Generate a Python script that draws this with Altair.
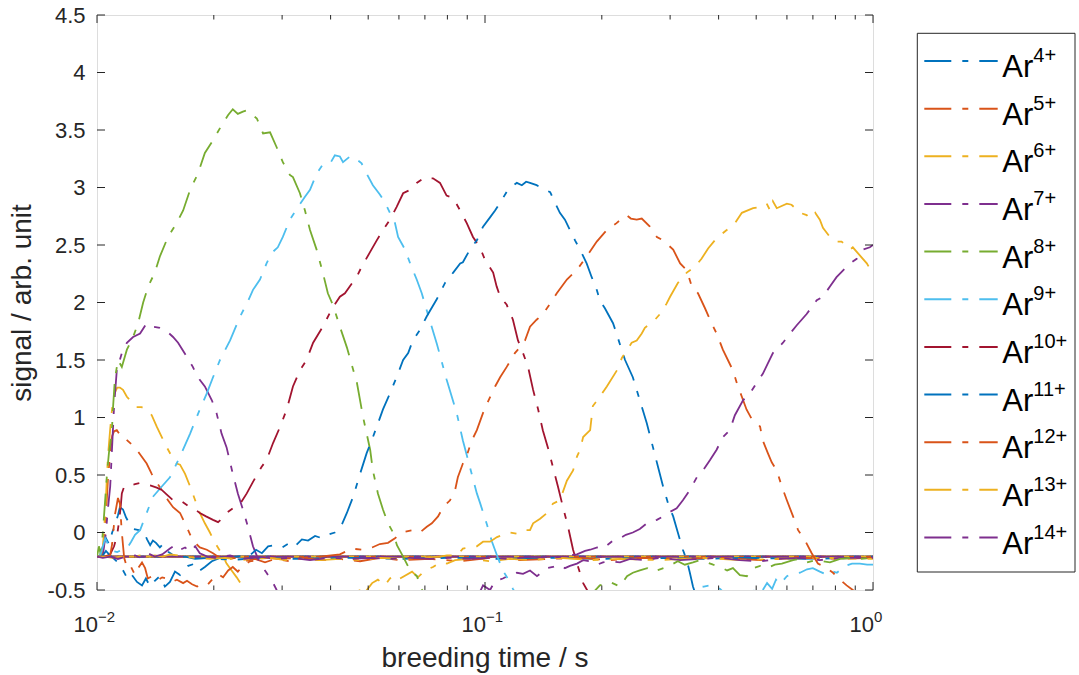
import altair as alt
import pandas as pd

FONT = "Liberation Sans"
INK = "#262626"

SERIES = ["Ar4+", "Ar5+", "Ar6+", "Ar7+", "Ar8+", "Ar9+", "Ar10+", "Ar11+", "Ar12+", "Ar13+", "Ar14+"]
SUPS = ["4+", "5+", "6+", "7+", "8+", "9+", "10+", "11+", "12+", "13+", "14+"]
COLORS = ["#0072BD", "#D95319", "#EDB120", "#7E2F8E", "#77AC30", "#4DBEEE",
          "#A2142F", "#0072BD", "#D95319", "#EDB120", "#7E2F8E"]
X_TITLE = "breeding time / s"
Y_TITLE = "signal / arb. unit"

AR4_LT = [-2.000, -1.992, -1.985, -1.977, -1.969, -1.961, -1.954, -1.946, -1.941, -1.933, -1.925, -1.915, -1.905, -1.892, -1.881, -1.871, -1.863, -1.856, -1.848, -1.838, -1.830, -1.820, -1.807, -1.791, -1.773, -1.747, -1.709, -1.657, -1.580, -1.477, -1.348, -1.219, -1.090, -0.961, -0.832, -0.704, -0.575, -0.446, -0.317, -0.188, 0.000]
AR4_V = [-0.21, -0.20, -0.12, -0.05, -0.10, 0.00, 0.06, 0.15, 0.22, 0.20, 0.13, 0.07, 0.03, 0.02, 0.02, -0.06, -0.11, -0.07, -0.09, -0.13, -0.10, -0.16, -0.19, -0.22, -0.21, -0.23, -0.22, -0.24, -0.22, -0.23, -0.22, -0.23, -0.22, -0.23, -0.22, -0.23, -0.22, -0.23, -0.22, -0.23, -0.22]

AR5_LT = [-2.000, -1.987, -1.982, -1.977, -1.972, -1.966, -1.961, -1.956, -1.949, -1.943, -1.936, -1.925, -1.915, -1.902, -1.885, -1.872, -1.859, -1.851, -1.833, -1.817, -1.804, -1.786, -1.769, -1.753, -1.735, -1.717, -1.701, -1.688, -1.670, -1.644, -1.619, -1.593, -1.567, -1.541, -1.503, -1.464, -1.425, -1.374, -1.322, -1.271, -1.219, -1.142, -1.064, -0.987, -0.910, -0.832, -0.755, -0.678, -0.601, -0.497, -0.394, -0.291, -0.188, -0.085, 0.000]
AR5_V = [-0.21, -0.20, -0.10, 0.15, 0.45, 0.70, 0.84, 0.88, 0.89, 0.86, 0.86, 0.81, 0.78, 0.74, 0.66, 0.60, 0.51, 0.46, 0.37, 0.28, 0.22, 0.17, 0.05, -0.07, -0.13, -0.15, -0.18, -0.21, -0.24, -0.22, -0.25, -0.23, -0.26, -0.23, -0.25, -0.22, -0.24, -0.23, -0.25, -0.22, -0.24, -0.23, -0.25, -0.22, -0.24, -0.23, -0.22, -0.24, -0.22, -0.23, -0.22, -0.24, -0.22, -0.23, -0.22]

AR6_LT = [-2.000, -1.987, -1.982, -1.977, -1.972, -1.966, -1.961, -1.956, -1.948, -1.941, -1.933, -1.923, -1.915, -1.898, -1.885, -1.872, -1.859, -1.846, -1.833, -1.820, -1.807, -1.795, -1.786, -1.773, -1.760, -1.747, -1.735, -1.722, -1.709, -1.696, -1.679, -1.666, -1.653, -1.640, -1.624, -1.613, -1.593, -1.477, -1.348, -1.327, -1.309, -1.291, -1.276, -1.258, -1.245, -1.232, -1.219, -1.188, -1.173, -1.155, -1.134, -1.116, -1.098, -1.077, -1.039, -0.987, -0.936, -0.884, -0.807, -0.729, -0.652, -0.549, -0.446, -0.343, -0.240, -0.137, 0.000]
AR6_V = [-0.21, -0.20, 0.00, 0.30, 0.65, 0.90, 1.08, 1.20, 1.26, 1.26, 1.24, 1.18, 1.15, 1.09, 1.09, 1.07, 1.02, 0.92, 0.83, 0.74, 0.66, 0.60, 0.59, 0.51, 0.40, 0.28, 0.17, 0.08, 0.00, -0.09, -0.18, -0.27, -0.33, -0.39, -0.47, -0.52, -0.62, -0.70, -0.60, -0.50, -0.52, -0.44, -0.41, -0.46, -0.40, -0.37, -0.40, -0.34, -0.39, -0.33, -0.30, -0.26, -0.27, -0.24, -0.23, -0.25, -0.23, -0.24, -0.22, -0.24, -0.23, -0.24, -0.22, -0.24, -0.23, -0.22, -0.23]

AR7_LT = [-2.000, -1.985, -1.977, -1.972, -1.966, -1.961, -1.956, -1.949, -1.936, -1.923, -1.907, -1.889, -1.872, -1.856, -1.838, -1.820, -1.804, -1.791, -1.769, -1.753, -1.740, -1.722, -1.704, -1.692, -1.679, -1.666, -1.650, -1.637, -1.624, -1.611, -1.598, -1.580, -1.563, -1.546, -1.537, -1.515, -1.348, -1.090, -1.018, -1.005, -0.987, -0.974, -0.954, -0.936, -0.918, -0.902, -0.884, -0.866, -0.840, -0.825, -0.807, -0.794, -0.781, -0.763, -0.747, -0.729, -0.711, -0.696, -0.678, -0.652, -0.626, -0.588, -0.549, -0.497, -0.446, -0.394, -0.343, -0.291, -0.240, -0.188, -0.137, -0.085, 0.000]
AR7_V = [-0.21, -0.20, 0.00, 0.20, 0.40, 0.75, 1.10, 1.41, 1.56, 1.65, 1.70, 1.73, 1.82, 1.79, 1.78, 1.75, 1.70, 1.65, 1.53, 1.44, 1.35, 1.27, 1.15, 1.04, 0.86, 0.74, 0.51, 0.34, 0.20, 0.05, -0.12, -0.27, -0.35, -0.44, -0.50, -0.62, -0.75, -0.70, -0.55, -0.46, -0.50, -0.42, -0.40, -0.37, -0.35, -0.36, -0.33, -0.38, -0.31, -0.30, -0.28, -0.31, -0.29, -0.27, -0.24, -0.25, -0.28, -0.26, -0.25, -0.26, -0.23, -0.24, -0.22, -0.24, -0.23, -0.22, -0.24, -0.25, -0.23, -0.22, -0.24, -0.22, -0.22]

AR8_LT = [-2.000, -1.995, -1.990, -1.985, -1.979, -1.974, -1.969, -1.962, -1.959, -1.954, -1.946, -1.936, -1.923, -1.907, -1.894, -1.881, -1.868, -1.851, -1.838, -1.817, -1.795, -1.778, -1.760, -1.740, -1.722, -1.701, -1.679, -1.662, -1.650, -1.637, -1.624, -1.614, -1.588, -1.572, -1.554, -1.537, -1.521, -1.503, -1.495, -1.477, -1.464, -1.451, -1.434, -1.418, -1.405, -1.392, -1.374, -1.356, -1.330, -1.314, -1.296, -1.289, -1.276, -1.263, -1.250, -1.237, -1.227, -1.211, -1.193, -1.175, -1.168, -1.142, -1.013, -0.858, -0.729, -0.704, -0.678, -0.652, -0.634, -0.619, -0.601, -0.582, -0.567, -0.549, -0.531, -0.503, -0.485, -0.464, -0.446, -0.428, -0.412, -0.394, -0.376, -0.361, -0.343, -0.325, -0.309, -0.291, -0.273, -0.253, -0.235, -0.206, -0.188, -0.170, -0.149, -0.131, -0.111, -0.085, -0.059, -0.034, 0.000]
AR8_V = [-0.21, -0.12, -0.20, 0.00, 0.28, 0.52, 0.70, 0.86, 1.07, 1.33, 1.50, 1.44, 1.59, 1.70, 1.82, 2.00, 2.14, 2.26, 2.40, 2.57, 2.69, 2.80, 2.98, 3.12, 3.30, 3.41, 3.54, 3.63, 3.68, 3.64, 3.66, 3.67, 3.60, 3.47, 3.48, 3.35, 3.22, 3.11, 3.09, 2.95, 2.80, 2.63, 2.46, 2.26, 2.08, 1.98, 1.79, 1.61, 1.30, 1.00, 0.72, 0.54, 0.34, 0.20, 0.08, 0.00, -0.11, -0.21, -0.33, -0.38, -0.47, -0.60, -0.65, -0.60, -0.55, -0.46, -0.43, -0.47, -0.38, -0.35, -0.33, -0.31, -0.34, -0.32, -0.30, -0.25, -0.28, -0.26, -0.24, -0.26, -0.28, -0.30, -0.33, -0.31, -0.37, -0.38, -0.31, -0.29, -0.31, -0.28, -0.27, -0.24, -0.23, -0.26, -0.24, -0.25, -0.26, -0.23, -0.22, -0.23, -0.22]

AR9_LT = [-2.000, -1.992, -1.987, -1.979, -1.972, -1.961, -1.948, -1.936, -1.923, -1.912, -1.902, -1.889, -1.872, -1.856, -1.833, -1.812, -1.786, -1.760, -1.735, -1.717, -1.701, -1.683, -1.657, -1.631, -1.611, -1.598, -1.580, -1.563, -1.550, -1.534, -1.521, -1.503, -1.482, -1.464, -1.451, -1.434, -1.418, -1.399, -1.387, -1.374, -1.366, -1.348, -1.340, -1.318, -1.305, -1.289, -1.271, -1.258, -1.245, -1.232, -1.224, -1.206, -1.193, -1.176, -1.163, -1.150, -1.124, -1.099, -1.073, -1.057, -1.039, -1.021, -1.013, -0.995, -0.982, -0.969, -0.954, -0.936, -0.928, -0.910, -0.704, -0.472, -0.454, -0.436, -0.420, -0.405, -0.394, -0.369, -0.317, -0.299, -0.284, -0.273, -0.260, -0.250, -0.240, -0.222, -0.206, -0.188, -0.170, -0.155, -0.137, -0.124, -0.111, -0.093, -0.072, -0.054, -0.034, -0.015, 0.000]
AR9_V = [-0.21, -0.20, -0.15, -0.05, -0.10, -0.16, -0.17, -0.15, -0.14, -0.08, -0.02, 0.02, 0.17, 0.31, 0.40, 0.48, 0.66, 0.86, 1.07, 1.21, 1.35, 1.50, 1.67, 1.88, 2.01, 2.11, 2.20, 2.34, 2.43, 2.48, 2.57, 2.72, 2.83, 2.92, 2.98, 3.12, 3.20, 3.21, 3.28, 3.27, 3.22, 3.27, 3.27, 3.21, 3.12, 3.02, 2.94, 2.87, 2.78, 2.69, 2.57, 2.46, 2.34, 2.20, 2.08, 1.93, 1.64, 1.33, 1.04, 0.80, 0.57, 0.34, 0.26, 0.07, -0.08, -0.20, -0.33, -0.43, -0.49, -0.60, -0.65, -0.55, -0.48, -0.47, -0.46, -0.47, -0.49, -0.58, -0.56, -0.47, -0.50, -0.44, -0.49, -0.41, -0.45, -0.38, -0.36, -0.35, -0.32, -0.31, -0.34, -0.36, -0.33, -0.35, -0.29, -0.27, -0.27, -0.28, -0.28]

AR10_LT = [-2.000, -1.979, -1.966, -1.956, -1.948, -1.943, -1.939, -1.936, -1.930, -1.915, -1.902, -1.889, -1.876, -1.863, -1.846, -1.833, -1.820, -1.804, -1.786, -1.773, -1.760, -1.747, -1.735, -1.719, -1.701, -1.688, -1.678, -1.666, -1.650, -1.631, -1.614, -1.598, -1.576, -1.563, -1.546, -1.528, -1.511, -1.495, -1.477, -1.460, -1.443, -1.418, -1.392, -1.374, -1.361, -1.340, -1.331, -1.318, -1.296, -1.279, -1.263, -1.245, -1.228, -1.211, -1.193, -1.176, -1.163, -1.149, -1.142, -1.134, -1.116, -1.099, -1.082, -1.064, -1.047, -1.031, -1.013, -1.000, -0.979, -0.970, -0.961, -0.944, -0.928, -0.915, -0.902, -0.889, -0.876, -0.863, -0.851, -0.838, -0.825, -0.812, -0.799, -0.786, -0.773, -0.760, -0.747, -0.737, -0.716, -0.446, 0.000]
AR10_V = [-0.21, -0.21, -0.19, -0.12, -0.02, 0.10, 0.22, 0.34, 0.40, 0.41, 0.42, 0.43, 0.42, 0.41, 0.39, 0.37, 0.33, 0.28, 0.28, 0.25, 0.22, 0.20, 0.17, 0.14, 0.11, 0.09, 0.12, 0.17, 0.21, 0.25, 0.34, 0.44, 0.57, 0.63, 0.78, 0.92, 1.07, 1.27, 1.41, 1.50, 1.65, 1.79, 1.96, 2.05, 2.08, 2.18, 2.22, 2.31, 2.44, 2.54, 2.63, 2.72, 2.83, 2.95, 2.98, 3.04, 3.07, 3.09, 3.08, 3.08, 3.04, 2.93, 2.91, 2.80, 2.69, 2.57, 2.48, 2.37, 2.26, 2.14, 2.05, 1.98, 1.85, 1.67, 1.56, 1.44, 1.24, 1.07, 0.89, 0.74, 0.57, 0.40, 0.22, 0.05, -0.15, -0.30, -0.44, -0.50, -0.65, -0.70, -0.70]

AR11_LT = [-2.000, -1.987, -1.977, -1.966, -1.956, -1.946, -1.936, -1.928, -1.920, -1.910, -1.897, -1.884, -1.874, -1.863, -1.851, -1.838, -1.825, -1.812, -1.799, -1.786, -1.765, -1.747, -1.735, -1.722, -1.704, -1.683, -1.644, -1.606, -1.590, -1.575, -1.559, -1.541, -1.523, -1.503, -1.490, -1.472, -1.456, -1.438, -1.420, -1.405, -1.387, -1.374, -1.356, -1.340, -1.322, -1.305, -1.292, -1.279, -1.263, -1.245, -1.228, -1.211, -1.198, -1.186, -1.168, -1.150, -1.124, -1.103, -1.082, -1.064, -1.057, -1.039, -1.021, -1.005, -0.987, -0.974, -0.957, -0.941, -0.931, -0.918, -0.905, -0.894, -0.884, -0.867, -0.845, -0.832, -0.820, -0.807, -0.794, -0.781, -0.768, -0.755, -0.738, -0.725, -0.712, -0.704, -0.691, -0.670, -0.661, -0.648, -0.639, -0.619, -0.601, -0.583, -0.567, -0.554, -0.541, -0.528, -0.515, -0.503, -0.490, -0.480, -0.472, -0.464, -0.446, 0.000]
AR11_V = [-0.21, -0.21, -0.16, -0.20, -0.23, -0.26, -0.31, -0.36, -0.41, -0.37, -0.43, -0.46, -0.40, -0.47, -0.42, -0.38, -0.47, -0.43, -0.34, -0.37, -0.29, -0.27, -0.33, -0.30, -0.25, -0.22, -0.21, -0.20, -0.15, -0.18, -0.12, -0.11, -0.13, -0.09, -0.12, -0.06, -0.07, -0.03, -0.05, -0.02, 0.00, 0.03, 0.17, 0.31, 0.51, 0.69, 0.80, 0.92, 1.07, 1.21, 1.35, 1.50, 1.56, 1.67, 1.76, 1.88, 2.03, 2.17, 2.26, 2.34, 2.35, 2.46, 2.54, 2.66, 2.74, 2.80, 2.89, 2.98, 3.01, 3.04, 3.02, 3.05, 3.04, 3.02, 2.98, 2.96, 2.87, 2.78, 2.72, 2.63, 2.54, 2.46, 2.34, 2.22, 2.11, 2.02, 1.95, 1.82, 1.73, 1.59, 1.50, 1.35, 1.15, 0.95, 0.74, 0.57, 0.40, 0.25, 0.14, 0.00, -0.15, -0.24, -0.35, -0.47, -0.65, -0.70]

AR12_LT = [-2.000, -1.982, -1.966, -1.961, -1.954, -1.946, -1.941, -1.936, -1.930, -1.923, -1.915, -1.902, -1.892, -1.884, -1.876, -1.869, -1.858, -1.845, -1.832, -1.820, -1.807, -1.794, -1.778, -1.768, -1.755, -1.742, -1.727, -1.714, -1.701, -1.688, -1.675, -1.662, -1.650, -1.637, -1.624, -1.606, -1.585, -1.567, -1.528, -1.477, -1.425, -1.374, -1.343, -1.317, -1.291, -1.271, -1.250, -1.232, -1.215, -1.186, -1.168, -1.150, -1.137, -1.121, -1.108, -1.090, -1.077, -1.070, -1.057, -1.047, -1.034, -1.021, -1.005, -0.992, -0.974, -0.961, -0.944, -0.923, -0.910, -0.897, -0.884, -0.867, -0.851, -0.832, -0.815, -0.789, -0.764, -0.738, -0.712, -0.686, -0.661, -0.647, -0.635, -0.624, -0.609, -0.596, -0.575, -0.557, -0.541, -0.515, -0.497, -0.480, -0.467, -0.451, -0.433, -0.416, -0.403, -0.387, -0.374, -0.361, -0.351, -0.338, -0.326, -0.313, -0.300, -0.291, -0.284, -0.271, -0.261, -0.248, -0.235, -0.222, -0.206, -0.193, -0.175, -0.158, -0.142, -0.124, -0.103, -0.085, -0.068, -0.052, -0.034, 0.000]
AR12_V = [-0.21, -0.21, -0.20, -0.10, 0.15, 0.30, 0.25, 0.00, -0.22, -0.30, -0.28, -0.37, -0.30, -0.26, -0.31, -0.40, -0.38, -0.42, -0.39, -0.40, -0.43, -0.41, -0.44, -0.42, -0.45, -0.47, -0.44, -0.45, -0.40, -0.36, -0.39, -0.33, -0.30, -0.34, -0.29, -0.25, -0.24, -0.22, -0.23, -0.22, -0.21, -0.19, -0.14, -0.15, -0.13, -0.10, -0.09, -0.05, 0.00, 0.02, 0.00, 0.05, 0.08, 0.14, 0.22, 0.28, 0.37, 0.48, 0.60, 0.67, 0.80, 0.89, 1.04, 1.14, 1.27, 1.35, 1.44, 1.56, 1.61, 1.67, 1.79, 1.85, 1.90, 1.99, 2.08, 2.20, 2.28, 2.40, 2.53, 2.63, 2.69, 2.73, 2.76, 2.73, 2.72, 2.73, 2.66, 2.57, 2.54, 2.46, 2.34, 2.28, 2.14, 2.08, 1.95, 1.82, 1.73, 1.59, 1.50, 1.41, 1.30, 1.18, 1.07, 0.99, 0.96, 0.92, 0.80, 0.69, 0.61, 0.54, 0.40, 0.28, 0.14, 0.02, -0.07, -0.18, -0.27, -0.30, -0.35, -0.41, -0.46, -0.50, -0.56, -0.62]

AR13_LT = [-2.000, -1.979, -1.961, -1.941, -1.915, -1.889, -1.869, -1.851, -1.830, -1.812, -1.791, -1.773, -1.747, -1.709, -1.670, -1.631, -1.593, -1.554, -1.515, -1.477, -1.425, -1.374, -1.322, -1.271, -1.219, -1.168, -1.116, -1.098, -1.072, -1.057, -1.039, -1.021, -1.005, -0.987, -0.969, -0.954, -0.936, -0.918, -0.902, -0.884, -0.876, -0.858, -0.840, -0.825, -0.807, -0.789, -0.773, -0.763, -0.755, -0.747, -0.729, -0.722, -0.704, -0.686, -0.660, -0.647, -0.622, -0.609, -0.596, -0.588, -0.562, -0.549, -0.532, -0.523, -0.503, -0.480, -0.459, -0.442, -0.425, -0.403, -0.377, -0.356, -0.338, -0.309, -0.291, -0.274, -0.265, -0.258, -0.248, -0.222, -0.210, -0.188, -0.171, -0.162, -0.149, -0.137, -0.129, -0.111, -0.094, -0.081, -0.059, -0.052, -0.034, -0.016, 0.000]
AR13_V = [-0.21, -0.21, -0.22, -0.21, -0.22, -0.20, -0.21, -0.20, -0.21, -0.19, -0.20, -0.21, -0.22, -0.23, -0.22, -0.24, -0.23, -0.22, -0.24, -0.23, -0.24, -0.23, -0.24, -0.22, -0.23, -0.22, -0.21, -0.20, -0.20, -0.14, -0.13, -0.12, -0.08, -0.08, -0.04, -0.02, 0.00, -0.01, 0.02, 0.02, 0.08, 0.12, 0.17, 0.25, 0.28, 0.45, 0.54, 0.66, 0.72, 0.83, 0.89, 1.10, 1.18, 1.27, 1.41, 1.52, 1.65, 1.67, 1.73, 1.78, 1.85, 1.90, 1.99, 2.05, 2.17, 2.26, 2.31, 2.38, 2.47, 2.56, 2.63, 2.69, 2.78, 2.82, 2.83, 2.86, 2.80, 2.88, 2.82, 2.86, 2.85, 2.78, 2.76, 2.73, 2.78, 2.72, 2.65, 2.57, 2.53, 2.53, 2.46, 2.48, 2.41, 2.34, 2.25]

AR14_LT = [-2.000, -1.985, -1.966, -1.946, -1.925, -1.902, -1.887, -1.869, -1.851, -1.832, -1.812, -1.799, -1.786, -1.773, -1.760, -1.747, -1.735, -1.716, -1.696, -1.657, -1.619, -1.580, -1.541, -1.503, -1.451, -1.399, -1.348, -1.296, -1.245, -1.193, -1.142, -1.090, -1.039, -0.987, -0.936, -0.884, -0.832, -0.799, -0.781, -0.763, -0.742, -0.729, -0.711, -0.696, -0.670, -0.652, -0.637, -0.619, -0.601, -0.583, -0.557, -0.541, -0.523, -0.506, -0.490, -0.472, -0.454, -0.438, -0.420, -0.403, -0.387, -0.369, -0.356, -0.335, -0.317, -0.300, -0.284, -0.271, -0.258, -0.232, -0.214, -0.197, -0.171, -0.158, -0.145, -0.129, -0.111, -0.094, -0.077, -0.059, -0.042, -0.026, -0.008, 0.000]
AR14_V = [-0.21, -0.22, -0.21, -0.23, -0.21, -0.20, -0.22, -0.18, -0.21, -0.19, -0.14, -0.11, -0.15, -0.13, -0.17, -0.12, -0.18, -0.21, -0.22, -0.20, -0.23, -0.21, -0.23, -0.22, -0.24, -0.22, -0.23, -0.22, -0.23, -0.22, -0.23, -0.22, -0.23, -0.22, -0.23, -0.21, -0.22, -0.21, -0.20, -0.19, -0.16, -0.15, -0.13, -0.14, -0.07, -0.05, -0.02, 0.00, 0.03, 0.08, 0.11, 0.14, 0.18, 0.21, 0.28, 0.37, 0.48, 0.54, 0.63, 0.72, 0.83, 0.89, 1.02, 1.15, 1.21, 1.30, 1.38, 1.47, 1.56, 1.65, 1.73, 1.80, 1.90, 1.96, 2.02, 2.05, 2.14, 2.22, 2.28, 2.34, 2.38, 2.46, 2.48, 2.50]

# flat level that every trace also runs along across the whole time range
BASELINE = -0.21

Y_TICKS = [-0.5, 0, 0.5, 1, 1.5, 2, 2.5, 3, 3.5, 4, 4.5]
X_MAJOR = [0.01, 0.1, 1]
X_BASE = ["10", "10", "10"]
X_EXP = ["\u22122", "\u22121", "0"]
X_MINOR = [0.02, 0.03, 0.04, 0.05, 0.06, 0.07, 0.08, 0.09,
           0.2, 0.3, 0.4, 0.5, 0.6, 0.7, 0.8, 0.9]

W, H = 776, 575
DASH = [27, 11, 6, 11]

curves = [
    ("Ar4+", AR4_LT, AR4_V), ("Ar5+", AR5_LT, AR5_V), ("Ar6+", AR6_LT, AR6_V),
    ("Ar7+", AR7_LT, AR7_V), ("Ar8+", AR8_LT, AR8_V), ("Ar9+", AR9_LT, AR9_V),
    ("Ar10+", AR10_LT, AR10_V), ("Ar11+", AR11_LT, AR11_V), ("Ar12+", AR12_LT, AR12_V),
    ("Ar13+", AR13_LT, AR13_V), ("Ar14+", AR14_LT, AR14_V),
]
rows = []
for name, lts, vals in curves:
    assert len(lts) == len(vals), name
    for a, b in zip(lts, vals):
        rows.append({"series": name, "t": 10 ** a, "v": b})
curve_df = pd.DataFrame(rows)

base_df = pd.DataFrame([{"series": n, "t": t, "v": BASELINE}
                        for n in SERIES for t in (0.01, 1.0)])


def phased(pattern, shift):
    """Same dash pattern, started `shift` px later (keeps even length)."""
    total = sum(pattern)
    shift %= total
    acc = 0
    idx = 0
    for idx, seg in enumerate(pattern):
        if acc + seg > shift:
            break
        acc += seg
    k = shift - acc
    rest = [pattern[idx] - k] + pattern[idx + 1:] + pattern[:idx] + [k]
    return rest + [0] if idx % 2 == 0 else [0] + rest


BASE_DASHES = [phased(DASH, 5 * i) for i in range(len(SERIES))]

x_scale = alt.Scale(type="log", domain=[0.01, 1], nice=False)
y_scale = alt.Scale(domain=[-0.5, 4.5], nice=False, zero=False)
color_scale = alt.Scale(domain=SERIES, range=COLORS)
color = alt.Color("series:N", scale=color_scale, legend=None)

base_layer = alt.Chart(base_df).mark_line(clip=True, strokeWidth=1.8).encode(
    x=alt.X("t:Q", scale=x_scale, axis=None),
    y=alt.Y("v:Q", scale=y_scale, axis=None),
    color=color,
    strokeDash=alt.StrokeDash("series:N", scale=alt.Scale(domain=SERIES, range=BASE_DASHES), legend=None),
)

lines = alt.Chart(curve_df).mark_line(clip=True, strokeWidth=1.8, strokeDash=DASH).encode(
    x=alt.X("t:Q", scale=x_scale, axis=None),
    y=alt.Y("v:Q", scale=y_scale, axis=alt.Axis(
        values=Y_TICKS, labelExpr="'' + datum.value", ticks=False, tickSize=0, domain=False,
        grid=False, labelPadding=12, labelFont=FONT, labelFontSize=22, labelColor=INK,
        title=Y_TITLE, titleFont=FONT, titleFontSize=28, titleFontWeight="normal",
        titleColor=INK, titleAngle=270, titleX=-75, titleY=H / 2, titleAlign="center",
        titleBaseline="middle")),
    color=color,
)

ytick_df = pd.DataFrame({"v": Y_TICKS})
xmaj_df = pd.DataFrame({"t": X_MAJOR, "base": X_BASE, "exp": X_EXP})
xmin_df = pd.DataFrame({"t": X_MINOR})

tick_style = dict(color=INK, strokeWidth=1)
ytick_l = alt.Chart(ytick_df).mark_rule(**tick_style).encode(
    y=alt.Y("v:Q", scale=y_scale, axis=None), x=alt.value(0), x2=alt.value(8))
ytick_r = alt.Chart(ytick_df).mark_rule(**tick_style).encode(
    y=alt.Y("v:Q", scale=y_scale, axis=None), x=alt.value(W - 8), x2=alt.value(W))
xmaj_b = alt.Chart(xmaj_df).mark_rule(**tick_style).encode(
    x=alt.X("t:Q", scale=x_scale, axis=None), y=alt.value(H), y2=alt.value(H - 8))
xmaj_t = alt.Chart(xmaj_df).mark_rule(**tick_style).encode(
    x=alt.X("t:Q", scale=x_scale, axis=None), y=alt.value(0), y2=alt.value(8))
xmin_b = alt.Chart(xmin_df).mark_rule(**tick_style).encode(
    x=alt.X("t:Q", scale=x_scale, axis=None), y=alt.value(H), y2=alt.value(H - 4.5))
xmin_t = alt.Chart(xmin_df).mark_rule(**tick_style).encode(
    x=alt.X("t:Q", scale=x_scale, axis=None), y=alt.value(0), y2=alt.value(4.5))

xlab_base = alt.Chart(xmaj_df).mark_text(
    align="right", baseline="alphabetic", dx=1, font=FONT, fontSize=22, color=INK).encode(
    x=alt.X("t:Q", scale=x_scale, axis=None), y=alt.value(H + 42), text="base:N")
xlab_exp = alt.Chart(xmaj_df).mark_text(
    align="left", baseline="alphabetic", dx=1, font=FONT, fontSize=15, color=INK).encode(
    x=alt.X("t:Q", scale=x_scale, axis=None), y=alt.value(H + 32), text="exp:N")

# x-axis title, centred under the plot
xtitle = alt.Chart(pd.DataFrame({"label": [X_TITLE]})).mark_text(
    align="center", baseline="alphabetic", font=FONT, fontSize=28, color=INK).encode(
    x=alt.value(W / 2), y=alt.value(H + 77), text="label:N")

# legend drawn beside the plot
leg_df = pd.DataFrame({"series": SERIES, "sup": SUPS, "ar": ["Ar"] * len(SERIES),
                       "row": list(range(len(SERIES)))})
leg_scale = alt.Scale(domain=[0, len(SERIES) - 1], range=[46, 522.5], nice=False, zero=False)
leg_y = alt.Y("row:Q", scale=leg_scale, axis=None)

leg_box = alt.Chart(pd.DataFrame({"row": [0]})).mark_rect(
    fill="white", stroke=INK, strokeWidth=1).encode(
    x=alt.value(820.3), x2=alt.value(978), y=alt.value(18.3), y2=alt.value(557))
leg_lines = alt.Chart(leg_df).mark_rule(strokeWidth=2, strokeDash=DASH).encode(
    x=alt.value(827.3), x2=alt.value(900.7), y=leg_y, color=color)
leg_ar = alt.Chart(leg_df).mark_text(
    align="left", baseline="alphabetic", dy=16, font=FONT, fontSize=31, color="black").encode(
    x=alt.value(905.3), y=leg_y, text="ar:N")
leg_sup = alt.Chart(leg_df).mark_text(
    align="left", baseline="alphabetic", dy=1, font=FONT, fontSize=20, color="black").encode(
    x=alt.value(936.3), y=leg_y, text="sup:N")

chart = alt.layer(
    base_layer, lines, ytick_l, ytick_r, xmaj_b, xmaj_t, xmin_b, xmin_t,
    xlab_base, xlab_exp, xtitle, leg_box, leg_lines, leg_ar, leg_sup,
).resolve_scale(
    y="independent"
).properties(
    width=W, height=H,
    autosize=alt.AutoSizeParams(type="none"),
    padding={"left": 97, "top": 15, "right": 206, "bottom": 85},
).configure_view(
    stroke=INK, strokeWidth=1
).configure(
    background="white", font=FONT
)

chart.save("out.html", embed_options={"renderer": "svg", "actions": False})
